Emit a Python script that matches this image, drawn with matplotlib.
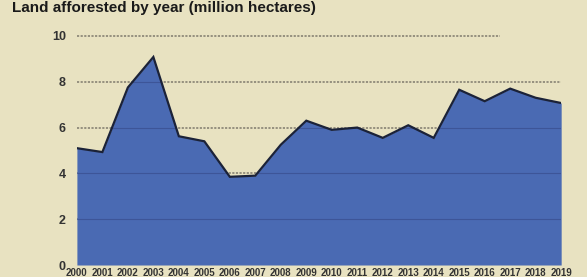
import matplotlib
matplotlib.use("Agg")
import matplotlib.pyplot as plt
from matplotlib import font_manager

years = ["2000", "2001", "2002", "2003", "2004", "2005", "2006", "2007", "2008", "2009",
         "2010", "2011", "2012", "2013", "2014", "2015", "2016", "2017", "2018", "2019"]
afforested = [5.1, 4.93, 7.75, 9.08, 5.62, 5.4, 3.85, 3.9, 5.25, 6.3,
              5.9, 6.0, 5.55, 6.1, 5.55, 7.65, 7.15, 7.7, 7.3, 7.07]
y_ticks = [0, 2, 4, 6, 8, 10]

names = {f.name for f in font_manager.fontManager.ttflist}
fam = ["Liberation Sans Narrow", "DejaVu Sans"] if "Liberation Sans Narrow" in names else ["Liberation Sans", "DejaVu Sans"]

bg = "#E8E2C1"
fig = plt.figure(figsize=(5.87, 2.77), dpi=100, facecolor=bg)
ax = fig.add_axes([0.131, 0.0433, 0.825, 0.827], facecolor=bg)

x = list(range(len(years)))
ax.set_xlim(0, len(years) - 1)
ax.set_ylim(0, 10)

for t in y_ticks[1:]:
    xend = 16.6 if t == 10 else 19
    ax.hlines(t, 0, xend, colors="#8f8a7a", linestyles=(0, (1.2, 0.8)), linewidth=1.3,
              clip_on=False, zorder=1)

poly = ax.fill_between(x, afforested, 0, color="#4A6AB3", zorder=2, linewidth=0)
inner = ax.hlines(y_ticks[1:], 0, 19, colors="#3d5598", linewidth=0.8, zorder=2.5)
inner.set_clip_path(poly.get_paths()[0], ax.transData)
ax.plot(x, afforested, color="#1B2238", linewidth=1.6, zorder=3, solid_joinstyle="miter")

for s in ax.spines.values():
    s.set_visible(False)
ax.set_yticks(y_ticks)
ax.set_yticklabels([str(t) for t in y_ticks], family=fam, fontsize=9, fontweight="bold", color="#333333")
ax.set_xticks(x)
ax.set_xticklabels(years, family=fam, fontsize=7, fontweight="bold", color="#333333")
ax.tick_params(axis="both", length=0)
ax.tick_params(axis="y", pad=8)
ax.tick_params(axis="x", pad=2)

fig.text(0.02, 0.998, "Land afforested by year (million hectares)", family=fam, fontsize=11,
         fontweight="bold", color="#1a1a1a", va="top", ha="left")

fig.savefig("out.png", dpi=100, facecolor=bg)
